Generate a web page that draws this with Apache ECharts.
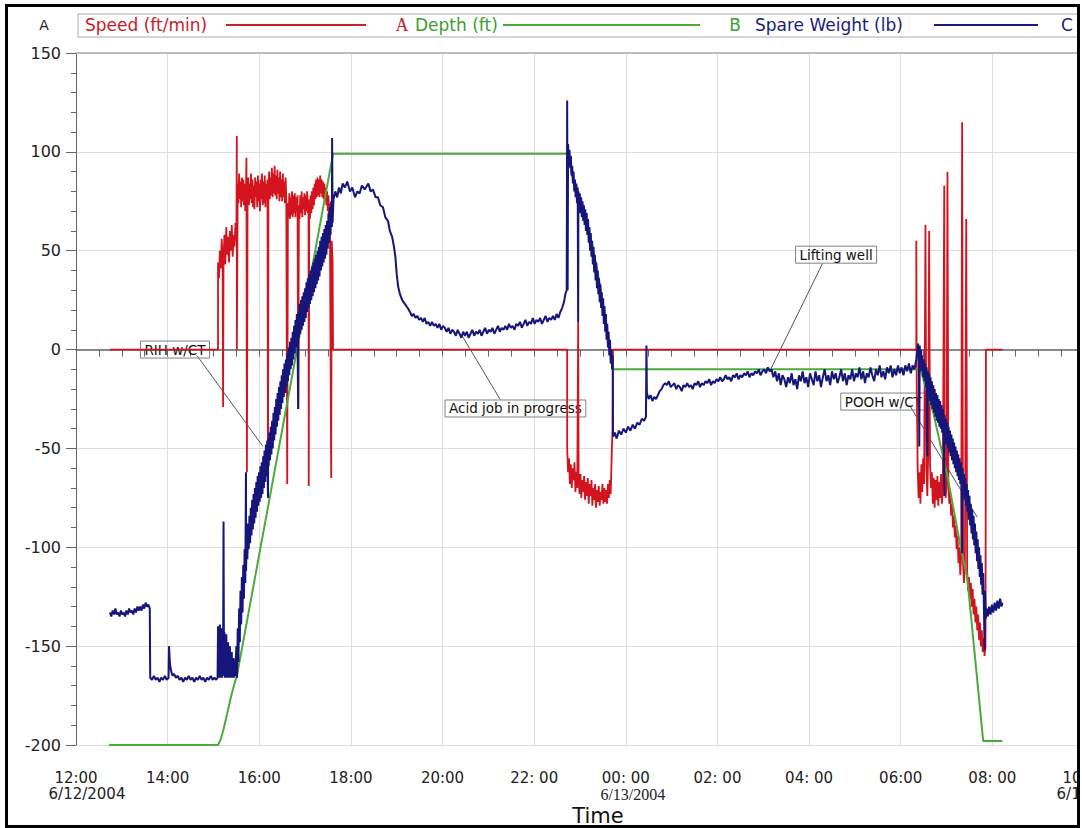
<!DOCTYPE html>
<html>
<head>
<meta charset="utf-8">
<script src="https://cdn.jsdelivr.net/npm/echarts@6/dist/echarts.min.js"></script>
<style>html,body{margin:0;padding:0;background:#fff}#c{width:1082px;height:828px}</style>
</head>
<body>
<div id="c"></div>
<script>
// ---- tick labels (x in hours after 12:00 on 6/12/2004) ----
const xTickLabels = ['12:00','14:00','16:00','18:00','20:00','22: 00','00: 00','02: 00','04: 00','06:00','08: 00','10:00'];
const xDateLabels = {0:'6/12/2004', 12:'6/13/2004', 22:'6/13/2004'};
const legendNames = ['Speed (ft/min)','Depth (ft)','Spare Weight (lb)'];
const legendLetters = ['A','B','C'];

// ---- series values: [hour, value] ----
const speed = [
[0.74,0],[3.10,0],[3.10,44],[3.12,36],[3.14,50],[3.16,41],[3.18,56],[3.20,45],[3.21,-29],[3.22,47],[3.24,58],[3.26,43],[3.28,62],[3.30,48],[3.32,57],[3.34,44],[3.36,60],[3.38,50],[3.40,63],[3.42,47],[3.44,58],[3.46,52],[3.48,64],[3.50,55],[3.51,108],[3.51,0],[3.53,84],[3.545,74],[3.56,89],[3.575,76],[3.59,85],[3.605,72],[3.62,87],[3.635,75],[3.65,86],[3.665,73],[3.68,84],[3.695,70],[3.71,80],[3.72,97],[3.73,-62],[3.745,78],[3.76,87],[3.775,73],[3.79,84],[3.805,76],[3.82,89],[3.835,74],[3.85,86],[3.865,72],[3.88,83],[3.895,71],[3.91,87],[3.925,77],[3.94,85],[3.955,72],[3.97,88],[3.985,75],[4.00,84],[4.015,70],[4.03,86],[4.045,76],[4.06,89],[4.075,73],[4.09,85],[4.105,74],[4.12,88],[4.135,72],[4.15,84],[4.165,76],[4.18,86],[4.19,-75],[4.20,80],[4.215,90],[4.23,76],[4.245,87],[4.26,78],[4.275,92],[4.29,77],[4.305,89],[4.32,79],[4.335,93],[4.35,78],[4.365,88],[4.38,76],[4.395,91],[4.41,79],[4.425,87],[4.44,75],[4.455,90],[4.47,77],[4.485,86],[4.50,75],[4.515,89],[4.53,77],[4.545,85],[4.56,74],[4.575,87],[4.59,76],[4.61,-68],[4.625,74],[4.64,67],[4.655,79],[4.67,66],[4.685,77],[4.70,68],[4.715,80],[4.73,67],[4.745,78],[4.76,69],[4.775,79],[4.79,67],[4.805,77],[4.82,70],[4.835,78],[4.85,-30],[4.865,73],[4.88,66],[4.895,78],[4.91,69],[4.925,80],[4.94,67],[4.955,77],[4.97,71],[4.985,79],[5.00,68],[5.015,78],[5.03,70],[5.045,80],[5.06,69],[5.075,76],[5.08,-69],[5.09,74],[5.105,66],[5.12,78],[5.135,69],[5.15,80],[5.165,71],[5.18,82],[5.195,73],[5.21,84],[5.225,76],[5.24,86],[5.255,77],[5.27,87],[5.285,78],[5.30,86],[5.315,77],[5.33,88],[5.345,79],[5.36,86],[5.375,77],[5.39,85],[5.405,76],[5.42,84],[5.435,75],[5.45,82],[5.465,73],[5.48,80],[5.495,70],[5.51,78],[5.525,66],[5.54,74],[5.57,-65],[5.58,55],[5.60,45],[5.61,0],
[10.72,0],[10.72,-50],[10.74,-62],[10.76,-55],[10.78,-68],[10.80,-58],[10.82,-70],[10.84,-60],[10.86,-66],[10.88,-57],[10.90,-72],[10.92,-62],[10.94,-70],[10.96,14],[10.97,-64],[10.99,-73],[11.01,-63],[11.03,-75],[11.05,-66],[11.07,-72],[11.09,-64],[11.11,-76],[11.13,-67],[11.15,-74],[11.17,-65],[11.19,-78],[11.21,-68],[11.23,-74],[11.25,-66],[11.27,-79],[11.29,-70],[11.31,-76],[11.33,-68],[11.35,-80],[11.37,-71],[11.39,-77],[11.41,-69],[11.43,-79],[11.45,-72],[11.47,-76],[11.49,-68],[11.51,-78],[11.53,-70],[11.55,-77],[11.57,-71],[11.59,-78],[11.61,-68],[11.63,-75],[11.65,-66],[11.67,-73],[11.69,-55],[11.71,-40],[11.72,0],
[18.34,0],[18.34,55],[18.35,-20],[18.37,-60],[18.39,-75],[18.41,-62],[18.43,-78],[18.45,-58],[18.47,-72],[18.49,-55],[18.51,-68],[18.54,63],[18.56,-60],[18.58,-74],[18.60,-52],[18.62,60],[18.64,-58],[18.66,-70],[18.68,-62],[18.70,-78],[18.72,-65],[18.74,-80],[18.76,-66],[18.78,-76],[18.80,-64],[18.82,-79],[18.84,-67],[18.86,-75],[18.88,-63],[18.90,-78],[18.92,-68],[18.95,83],[18.96,-66],[18.98,-75],[19.00,-70],[19.02,90],[19.04,-68],[19.06,-78],[19.08,-72],[19.10,-84],[19.12,-78],[19.14,-90],[19.16,-84],[19.18,-95],[19.20,-89],[19.22,-101],[19.24,-94],[19.26,-108],[19.28,-100],[19.30,-114],[19.32,-104],[19.34,115],[19.36,-108],[19.38,-118],[19.40,-110],[19.43,66],[19.45,-112],[19.47,-122],[19.49,-115],[19.51,-126],[19.53,-118],[19.55,-130],[19.57,-121],[19.59,-134],[19.61,-126],[19.63,-138],[19.65,-130],[19.67,-142],[19.69,-134],[19.71,-147],[19.73,-138],[19.75,-150],[19.77,-142],[19.79,-153],[19.81,-146],[19.83,-155],[19.85,-150],[19.86,0],[20.22,0]
];

const depth = [
[0.72,-200],[3.10,-200],[3.16,-197],[3.22,-192],[3.30,-184],[3.40,-174],[3.52,-164],[5.61,99],[10.73,99],[10.85,86],[11.00,75],[11.16,64],[11.38,40],[11.55,16],[11.70,-7],[11.72,-10],[18.43,-10],[18.71,-32],[19.02,-64],[19.30,-99],[19.45,-115],[19.80,-198],[20.22,-198]
];

const weight = [
[0.74,-133],[0.77,-135],[0.80,-132],[0.83,-134],[0.86,-131],[0.89,-134],[0.92,-133],[0.95,-135],[0.98,-132],[1.01,-134],[1.04,-133],[1.07,-135],[1.10,-132],[1.13,-134],[1.16,-131],[1.19,-133],[1.22,-132],[1.25,-134],[1.28,-131],[1.31,-133],[1.34,-130],[1.37,-132],[1.40,-130],[1.43,-132],[1.46,-129],[1.49,-131],[1.52,-128],[1.55,-130],[1.58,-129],[1.61,-131],[1.62,-166],
[1.66,-167],[1.70,-165],[1.74,-167],[1.78,-166],[1.82,-168],[1.86,-166],[1.90,-167],[1.94,-165],[1.98,-167],[2.02,-166],[2.03,-150],[2.05,-159],[2.08,-163],[2.11,-165],[2.14,-164],[2.18,-166],[2.22,-165],[2.26,-167],[2.30,-166],[2.34,-168],[2.38,-166],[2.42,-167],[2.46,-165],[2.50,-167],[2.54,-166],[2.58,-168],[2.62,-166],[2.66,-167],[2.70,-165],[2.74,-167],[2.78,-166],[2.82,-168],[2.86,-166],[2.90,-167],[2.94,-165],[2.98,-167],[3.02,-166],[3.06,-167],[3.09,-166],
[3.10,-140],[3.11,-166],[3.12,-142],[3.13,-165],[3.14,-139],[3.15,-166],[3.16,-144],[3.17,-164],[3.18,-141],[3.19,-166],[3.20,-145],[3.21,-165],[3.22,-87],[3.23,-163],[3.24,-143],[3.25,-166],[3.26,-147],[3.27,-165],[3.28,-144],[3.29,-166],[3.30,-150],[3.31,-165],[3.32,-148],[3.33,-166],[3.34,-152],[3.35,-165],[3.36,-150],[3.37,-166],[3.38,-155],[3.39,-165],[3.40,-153],[3.41,-166],[3.42,-158],[3.43,-165],[3.44,-156],[3.45,-166],[3.46,-160],[3.47,-165],[3.48,-162],
[3.500,-150],[3.515,-166],[3.530,-141],[3.545,-158],[3.560,-131],[3.575,-148],[3.590,-122],[3.605,-139],[3.620,-115],[3.635,-133],[3.650,-109],[3.665,-126],[3.680,-101],[3.695,-118],[3.710,-62],[3.712,-112],[3.725,-96],[3.740,-106],[3.755,-88],[3.770,-101],[3.785,-84],[3.800,-98],[3.815,-80],[3.830,-94],[3.845,-76],[3.860,-91],[3.875,-73],[3.890,-88],[3.905,-70],[3.920,-85],[3.935,-67],[3.950,-82],[3.965,-64],[3.980,-79],[3.995,-62],[4.010,-77],[4.025,-59],[4.040,-75],[4.055,-57],[4.070,-73],[4.085,-54],[4.100,-70],[4.115,-51],[4.130,-67],[4.145,-48],[4.160,-64],[4.175,-46],[4.190,-75],[4.195,-45],[4.205,-59],[4.220,-42],[4.235,-56],[4.250,-39],[4.265,-53],[4.280,-36],[4.295,-50],[4.310,-32],[4.325,-46],[4.340,-29],[4.355,-43],[4.370,-25],[4.385,-39],[4.400,-22],[4.415,-36],[4.430,-19],[4.445,-33],[4.460,-16],[4.475,-30],[4.490,-13],[4.505,-27],[4.520,-10],[4.535,-24],[4.550,-7],[4.565,-22],[4.580,-5],[4.595,-19],[4.610,-2],[4.625,-16],[4.640,1],[4.655,-13],[4.670,4],[4.685,-10],[4.700,6],[4.715,-8],[4.730,9],[4.745,-5],[4.760,12],[4.775,-2],[4.790,15],[4.805,1],[4.820,18],[4.835,3],[4.850,-30],[4.855,19],[4.865,6],[4.880,23],[4.895,8],[4.910,25],[4.925,10],[4.940,27],[4.955,12],[4.970,29],[4.985,14],[5.000,31],[5.015,16],[5.030,34],[5.045,19],[5.060,36],[5.075,21],[5.090,38],[5.105,23],[5.120,40],[5.135,25],[5.150,42],[5.165,27],[5.180,44],[5.195,29],[5.210,46],[5.225,31],[5.240,48],[5.255,33],[5.270,50],[5.285,35],[5.300,52],[5.315,37],[5.330,55],[5.345,40],[5.360,57],[5.375,42],[5.390,59],[5.405,44],[5.420,61],[5.435,46],[5.450,63],[5.465,48],[5.480,65],[5.495,51],[5.510,69],[5.525,54],[5.540,72],[5.555,58],[5.570,75],[5.585,62],[5.590,107],[5.600,64],[5.620,76],
[5.66,80],[5.70,77],[5.74,82],[5.78,79],[5.82,84],[5.87,82],[5.92,85],[5.98,80],[6.03,82],[6.09,77],[6.14,80],[6.19,79],[6.24,83],[6.30,81],[6.38,84],[6.43,80],[6.48,81],[6.54,77],[6.59,77],[6.64,73],[6.70,72],[6.75,67],[6.81,65],[6.85,60],[6.90,57],[6.94,52],[6.97,47],[7.00,38],[7.03,32],[7.07,28],[7.12,25],[7.18,23],[7.24,21],
[7.29,19],[7.33,17],[7.37,18],[7.41,16],[7.45,17],[7.49,15],[7.53,16],[7.57,14],[7.61,16],[7.65,13],[7.69,14],[7.73,12],[7.77,14],[7.81,12],[7.85,13],[7.89,11],[7.93,13],[7.97,10],[8.01,12],[8.05,11],[8.09,9],[8.13,11],[8.17,8],[8.21,10],[8.25,9],[8.29,7],[8.33,10],[8.37,8],[8.41,6],[8.45,9],[8.49,7],[8.53,9],[8.57,6],[8.61,8],[8.65,10],[8.69,7],[8.73,9],[8.77,8],[8.81,10],[8.85,7],[8.89,9],[8.93,11],[8.97,8],[9.01,10],[9.05,9],[9.09,11],[9.13,8],[9.17,10],[9.21,12],[9.25,9],[9.29,11],[9.33,10],[9.37,12],[9.41,10],[9.45,13],[9.49,11],[9.53,12],[9.57,10],[9.61,13],[9.65,12],[9.69,14],[9.73,11],[9.77,13],[9.81,15],[9.85,12],[9.89,14],[9.93,13],[9.97,16],[10.01,13],[10.05,15],[10.09,14],[10.13,16],[10.17,13],[10.21,15],[10.25,17],[10.29,14],[10.33,16],[10.37,15],[10.41,17],[10.45,15],[10.49,18],[10.53,16],[10.57,19],[10.61,21],[10.65,24],[10.68,28],[10.71,30],
[10.72,126],[10.73,30],[10.740,104],[10.755,96],[10.770,101],[10.785,92],[10.800,98],[10.815,88],[10.830,93],[10.845,84],[10.860,90],[10.875,80],[10.890,86],[10.905,77],[10.920,84],[10.935,74],[10.950,82],[10.960,14],[10.965,80],[10.980,71],[10.995,79],[11.010,69],[11.025,77],[11.040,67],[11.055,75],[11.070,65],[11.085,73],[11.100,63],[11.115,71],[11.130,60],[11.145,69],[11.160,58],[11.175,66],[11.190,54],[11.205,62],[11.220,50],[11.235,59],[11.250,47],[11.265,55],[11.280,43],[11.295,52],[11.310,39],[11.325,48],[11.340,35],[11.355,44],[11.370,31],[11.385,40],[11.400,28],[11.415,36],[11.430,24],[11.445,33],[11.460,21],[11.475,29],[11.490,17],[11.505,26],[11.520,13],[11.535,22],[11.550,9],[11.565,18],[11.580,5],[11.595,13],[11.610,1],[11.625,9],[11.640,-3],[11.655,5],[11.670,-7],[11.685,0],[11.700,-10],[11.715,-3],[11.720,-44],
[11.76,-42],[11.80,-45],[11.85,-41],[11.90,-43],[11.95,-40],[12.00,-42],[12.05,-39],[12.10,-41],[12.15,-38],[12.20,-40],[12.25,-37],[12.30,-38],[12.35,-35],[12.40,-36],[12.44,-34],[12.45,2],[12.46,-22],
[12.50,-25],[12.54,-23],[12.58,-26],[12.62,-24],[12.66,-25],[12.70,-23],[12.74,-21],[12.78,-20],[12.82,-18],[12.86,-17],[12.90,-18],[12.94,-16],[12.98,-19],[13.02,-18],[13.06,-17],[13.10,-20],[13.14,-18],[13.18,-19],[13.22,-21],[13.26,-18],[13.30,-19],[13.34,-17],[13.38,-19],[13.42,-18],[13.46,-20],[13.50,-17],[13.54,-18],[13.58,-16],[13.62,-19],[13.66,-17],[13.70,-18],[13.74,-16],[13.78,-17],[13.82,-15],[13.86,-18],[13.90,-16],[13.94,-17],[13.98,-15],[14.02,-16],[14.06,-14],[14.10,-16],[14.14,-15],[14.18,-13],[14.22,-15],[14.26,-14],[14.30,-16],[14.34,-13],[14.38,-14],[14.42,-12],[14.46,-15],[14.50,-13],[14.54,-14],[14.58,-12],[14.62,-13],[14.66,-11],[14.70,-14],[14.74,-12],[14.78,-13],[14.82,-11],[14.86,-12],[14.90,-10],[14.94,-13],[14.98,-11],[15.02,-10],[15.06,-12],[15.10,-9],[15.14,-11],[15.18,-10],
[15.22,-14],[15.26,-11],[15.30,-16],[15.34,-12],[15.38,-18],[15.42,-13],[15.46,-15],[15.50,-19],[15.54,-14],[15.58,-17],[15.62,-12],[15.66,-18],[15.70,-15],[15.74,-20],[15.78,-13],[15.82,-16],[15.86,-11],[15.90,-17],[15.94,-14],[15.98,-19],[16.02,-12],[16.06,-15],[16.10,-18],[16.14,-11],[16.18,-16],[16.22,-13],[16.26,-19],[16.30,-14],[16.34,-10],[16.38,-16],[16.42,-13],[16.46,-18],[16.50,-11],[16.54,-15],[16.58,-12],[16.62,-17],[16.66,-14],[16.70,-10],[16.74,-16],[16.78,-12],[16.82,-18],[16.86,-13],[16.90,-15],[16.94,-10],[16.98,-16],[17.02,-12],[17.06,-14],[17.10,-9],[17.14,-15],[17.18,-11],[17.22,-17],[17.26,-12],[17.30,-14],[17.34,-9],[17.38,-13],[17.42,-16],[17.46,-10],[17.50,-13],[17.54,-8],[17.58,-14],[17.62,-11],[17.66,-15],[17.70,-9],[17.74,-12],[17.78,-8],[17.82,-14],[17.86,-10],[17.90,-13],[17.94,-8],[17.98,-12],[18.02,-9],[18.06,-13],[18.10,-8],[18.14,-11],[18.18,-7],[18.22,-12],[18.26,-8],[18.30,-10],[18.34,-5],
[18.380,3],[18.395,-6],[18.405,-49],[18.415,2],[18.430,-8],[18.445,0],[18.460,-11],[18.475,-3],[18.490,-14],[18.505,-5],[18.520,-16],[18.535,-7],[18.550,-19],[18.565,-9],[18.580,-54],[18.590,-11],[18.605,-24],[18.620,-12],[18.635,-26],[18.650,-14],[18.665,-28],[18.680,-16],[18.695,-30],[18.710,-18],[18.725,-32],[18.740,-20],[18.755,-34],[18.770,-22],[18.785,-36],[18.800,-23],[18.815,-37],[18.830,-25],[18.845,-39],[18.860,-26],[18.875,-40],[18.890,-28],[18.905,-42],[18.920,-30],[18.935,-44],[18.950,-74],[18.955,-33],[18.970,-46],[18.985,-35],[19.000,-48],[19.015,-37],[19.030,-50],[19.045,-39],[19.060,-52],[19.075,-41],[19.090,-54],[19.105,-43],[19.120,-56],[19.135,-45],[19.150,-58],[19.165,-47],[19.180,-60],[19.195,-49],[19.210,-62],[19.225,-51],[19.240,-64],[19.255,-53],[19.270,-66],[19.285,-55],[19.300,-68],[19.315,-57],[19.330,-70],[19.340,-103],[19.350,-60],[19.365,-73],[19.380,-63],[19.395,-76],[19.410,-65],[19.425,-79],[19.440,-68],[19.455,-82],[19.470,-71],[19.485,-86],[19.500,-74],[19.515,-89],[19.530,-78],[19.545,-93],[19.560,-81],[19.575,-96],[19.590,-84],[19.605,-99],[19.620,-88],[19.635,-103],[19.650,-92],[19.665,-107],[19.680,-96],[19.695,-111],[19.710,-100],[19.725,-115],[19.740,-104],[19.755,-119],[19.770,-108],[19.785,-124],[19.800,-113],[19.815,-129],[19.830,-152],[19.840,-122],[19.860,-136],
[19.88,-131],[19.90,-135],[19.93,-130],[19.96,-134],[19.99,-129],[20.02,-133],[20.05,-128],[20.08,-132],[20.11,-127],[20.14,-131],[20.17,-126],[20.20,-130],[20.22,-128]
];

// ---- annotations: text, box centre, leader start, leader end (data coords) ----
const noteTexts = ['RIH w/CT','Acid job in progress','Lifting well','POOH w/CT'];
const noteAt   = [[2.16,0],[9.59,-29.8],[16.59,48],[17.62,-26.3]];
const noteFrom = [[2.64,-3],[9.26,-25.3],[16.29,43.4],[18.21,-28.8]];
const noteTo   = [[4.08,-49],[8.41,7.6],[15.17,-9.6],[19.67,-84.8]];

const SANS = 'DejaVu Sans';
const RED = '#d3141f', GREEN = '#4aab3b', NAVY = '#15157a';
const AX = '#666', GRID = '#dedede';

const chart = echarts.init(document.getElementById('c'), null, {renderer: 'svg', width: 1082, height: 828});

chart.setOption({
  animation: false,
  backgroundColor: '#fff',
  grid: {left: 76, top: 53, width: 1008, height: 692, outerBoundsMode: 'none', containLabel: false},
  xAxis: [{
    type: 'value', min: 0, max: 22, interval: 2,
    axisLine: {lineStyle: {color: AX, width: 1.5}},
    axisTick: {show: true, length: 7, lineStyle: {color: AX}},
    minorTick: {show: true, splitNumber: 4, length: 7, lineStyle: {color: AX}},
    splitLine: {show: true, lineStyle: {color: GRID}},
    axisLabel: {
      margin: 25, showMinLabel: true, showMaxLabel: true, hideOverlap: false, color: '#222',
      formatter: function (v) {
        const i = Math.round(v / 2);
        let s = '{t|' + xTickLabels[i] + '}';
        if (xDateLabels[v]) s += '\n{' + (v === 12 ? 'ds' : 'd') + '|' + xDateLabels[v] + '}';
        return s;
      },
      rich: {
        t: {fontFamily: SANS, fontSize: 15, lineHeight: 16, color: '#222'},
        d: {fontFamily: SANS, fontSize: 15, lineHeight: 16, color: '#222', padding: [0, 0, 0, 22]},
        ds: {fontFamily: 'Liberation Serif', fontSize: 16, lineHeight: 16, color: '#222', padding: [0, 0, 0, 14]}
      }
    }
  }, {
    type: 'value', position: 'top', min: 0, max: 22,
    axisLine: {show: true, lineStyle: {color: '#bbb', width: 2}},
    axisTick: {show: false}, axisLabel: {show: false}, splitLine: {show: false}
  }],
  yAxis: {
    type: 'value', min: -200, max: 150, interval: 50,
    axisLine: {show: true, lineStyle: {color: AX}},
    axisTick: {show: true, length: 10, lineStyle: {color: AX}},
    minorTick: {show: true, splitNumber: 5, length: 5, lineStyle: {color: AX}},
    splitLine: {show: true, lineStyle: {color: GRID}},
    axisLabel: {margin: 15, fontFamily: SANS, fontSize: 16, color: '#222'}
  },
  series: [
    {name: legendNames[0], type: 'line', data: speed, symbol: 'none', lineStyle: {color: RED, width: 1.8}, itemStyle: {color: RED}, z: 2},
    {name: legendNames[1], type: 'line', data: depth, symbol: 'none', lineStyle: {color: GREEN, width: 2}, itemStyle: {color: GREEN}, z: 3},
    {name: legendNames[2], type: 'line', data: weight, symbol: 'none', lineStyle: {color: NAVY, width: 2}, itemStyle: {color: NAVY}, z: 4}
  ]
});

const G = [];
// annotations (under the series lines)
for (let i = 0; i < noteTexts.length; i++) {
  const c = chart.convertToPixel({seriesIndex: 0}, noteAt[i]);
  const a = chart.convertToPixel({seriesIndex: 0}, noteFrom[i]);
  const b = chart.convertToPixel({seriesIndex: 0}, noteTo[i]);
  G.push({type: 'line', z: 1, shape: {x1: a[0], y1: a[1], x2: b[0], y2: b[1]}, style: {stroke: '#555', lineWidth: 1}});
  G.push({type: 'text', z: 1, x: c[0], y: c[1], style: {
    text: noteTexts[i], font: '13.5px "DejaVu Sans"', fill: '#111', align: 'center', verticalAlign: 'middle',
    borderColor: '#808080', borderWidth: 1, padding: [2, 4, 1, 4]
  }});
}
// legend row
const LY = 25;
G.push({type: 'rect', z: 10, shape: {x: 78, y: 14, width: 1010, height: 23}, style: {fill: 'none', stroke: '#aaa', lineWidth: 1}});
G.push({type: 'text', z: 10, x: 44, y: 24.5, style: {text: 'A', font: '14px "DejaVu Sans"', fill: '#222', align: 'center', verticalAlign: 'middle'}});
G.push({type: 'text', z: 10, x: 85, y: LY, style: {text: legendNames[0], font: '17px "DejaVu Sans"', fill: '#c8202a', align: 'left', verticalAlign: 'middle'}});
G.push({type: 'line', z: 10, shape: {x1: 226, y1: LY, x2: 366, y2: LY}, style: {stroke: '#c8202a', lineWidth: 2}});
G.push({type: 'text', z: 10, x: 402, y: LY, style: {text: legendLetters[0], font: '18px "Liberation Serif"', fill: '#c8202a', align: 'center', verticalAlign: 'middle'}});
G.push({type: 'text', z: 10, x: 415, y: LY, style: {text: legendNames[1], font: '17px "DejaVu Sans"', fill: '#3e9e30', align: 'left', verticalAlign: 'middle'}});
G.push({type: 'line', z: 10, shape: {x1: 503, y1: LY, x2: 700, y2: LY}, style: {stroke: '#4aab3b', lineWidth: 2}});
G.push({type: 'text', z: 10, x: 735, y: LY, style: {text: legendLetters[1], font: '17px "DejaVu Sans"', fill: '#3e9e30', align: 'center', verticalAlign: 'middle'}});
G.push({type: 'text', z: 10, x: 755, y: LY, style: {text: legendNames[2], font: '17px "DejaVu Sans"', fill: '#1c1c78', align: 'left', verticalAlign: 'middle'}});
G.push({type: 'line', z: 10, shape: {x1: 934, y1: LY, x2: 1038, y2: LY}, style: {stroke: '#1c1c78', lineWidth: 2}});
G.push({type: 'text', z: 10, x: 1067, y: LY, style: {text: legendLetters[2], font: '17px "DejaVu Sans"', fill: '#1c1c78', align: 'center', verticalAlign: 'middle'}});
// axis title
G.push({type: 'text', z: 10, x: 598, y: 816, style: {text: 'Time', font: '21px "DejaVu Sans"', fill: '#111', align: 'center', verticalAlign: 'middle'}});
// outer frame (image border cuts the right edge)
G.push({type: 'rect', z: 50, shape: {x: 1079, y: 0, width: 10, height: 828}, style: {fill: '#fff'}});
G.push({type: 'rect', z: 51, shape: {x: 6.5, y: 5.5, width: 1072, height: 821}, style: {fill: 'none', stroke: '#000', lineWidth: 3}});
chart.setOption({graphic: G});
</script>
</body>
</html>
